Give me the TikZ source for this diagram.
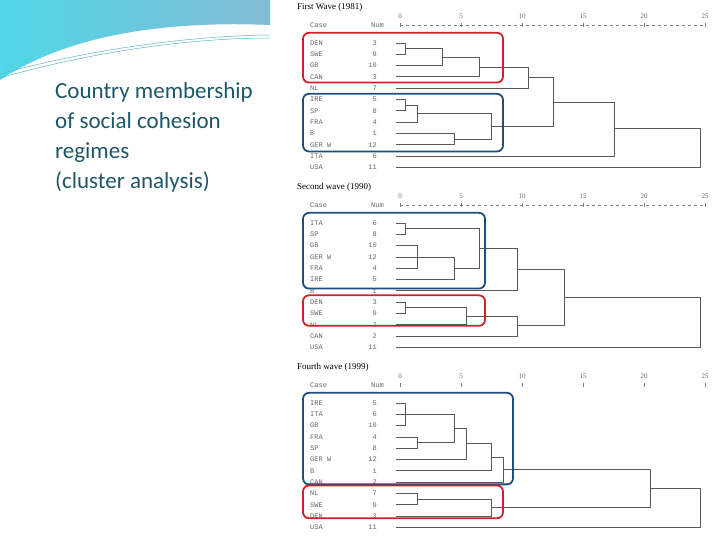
\documentclass[tikz,border=0pt]{standalone}
\usepackage{fontspec}
\setmainfont{Carlito}
\newfontfamily\monof{Liberation Mono}
\newfontfamily\serf{Liberation Serif}
\definecolor{ttl}{HTML}{1E5868}
\definecolor{redb}{HTML}{D0202A}
\definecolor{blueb}{HTML}{1F4E7A}
\definecolor{swl}{RGB}{90,180,200}
\definecolor{shl}{RGB}{80,215,232}
\definecolor{shr}{RGB}{130,188,212}
\tikzset{tree/.style={draw=black!65,line width=0.8pt},
 lab/.style={font=\monof\fontsize{7}{7}\selectfont,text=black!60,inner sep=0pt},
 ttlw/.style={font=\serf\fontsize{9}{9}\selectfont,anchor=west,inner sep=0pt},
 rbox/.style={draw=redb,line width=1.8pt,rounded corners=6pt},
 bbox/.style={draw=blueb,line width=1.8pt,rounded corners=6pt}}
\newcommand{\lnk}[5]{\draw[tree] (#2,#3) -- (#1,#3) -- (#1,#5) -- (#4,#5);}
\newcommand{\leaves}[1]{%
 \foreach \nm/\nu [count=\i] in {#1} {
  \node[lab,anchor=west] (c\i) at (310,\i) {\nm};
  \node[lab,anchor=east] (n\i) at (377,\i) {\nu};
 }}
\newcommand{\axis}[2]{%
 \node[ttlw] (tt) at (297,-2.2) {#1};
 \node[lab,anchor=west] (cs) at (310,-0.6) {Case};
 \node[lab,anchor=east] (nm) at (384,-0.6) {Num};
 \foreach \k in {0,5,...,25}{\node[lab,font=\serf\fontsize{7}{7}\selectfont] (ax\k) at ({400+12.2*\k},-1.4) {\k};
   \draw[black!50] ({400+12.2*\k},-0.8) -- ({400+12.2*\k},-0.4);}
 \ifx#2y\draw[black!50,dashed] (400,-0.6) -- (705,-0.6);\fi}
\begin{document}
\begin{tikzpicture}[x=1pt,y=-1pt]
\useasboundingbox (0,0) rectangle (720,540);
\fill[white] (0,0) rectangle (720,540);
\shade[left color=shl, right color=shr]
 (0,0) -- (270,0) -- (270,25) .. controls (150,20) and (60,40) .. (0,80) -- cycle;
\draw[swl,line width=0.5pt] (0,78) .. controls (80,55) and (180,38) .. (270,38);
\draw[swl,line width=0.5pt] (0,74) .. controls (80,52) and (180,36) .. (270,35);
\node[anchor=north west,align=left,text=ttl,font=\fontsize{23}{30}\selectfont,inner sep=0pt] (title) at (55,82)
 {Country membership\\of social cohesion\\regimes\\(cluster analysis)};
% panel 1
\begin{scope}[shift={(0,43)},y=-11.3pt,yshift=11.3pt]
\axis{First Wave (1981)}{y}
\leaves{DEN/3,SWE/9,GB/10,CAN/3,NL/7,IRE/5,SP/8,FRA/4,B/1,GER W/12,ITA/6,USA/11}
\lnk{405}{396}{1}{396}{2}
\lnk{442}{405}{1.5}{396}{3}
\lnk{479}{442}{2.25}{396}{4}
\lnk{528}{479}{3.125}{396}{5}
\lnk{405}{396}{6}{396}{7}
\lnk{417}{405}{6.5}{396}{8}
\lnk{454}{396}{9}{396}{10}
\lnk{491}{417}{7.25}{454}{9.5}
\lnk{553}{528}{4.06}{491}{8.375}
\lnk{614}{553}{6.22}{396}{11}
\lnk{700}{614}{8.6}{396}{12}
\draw[rbox] (303,0.1) rectangle (503,4.5);
\draw[bbox] (303,5.5) rectangle (503,10.6);
\end{scope}
% panel 2
\begin{scope}[shift={(0,223)},y=-11.3pt,yshift=11.3pt]
\axis{Second wave (1990)}{y}
\leaves{ITA/6,SP/8,GB/10,GER W/12,FRA/4,IRE/5,B/1,DEN/3,SWE/9,NL/7,CAN/2,USA/11}
\lnk{405}{396}{1}{396}{2}
\lnk{417}{396}{3}{396}{5}
\draw[tree] (396,4) -- (417,4);
\lnk{454}{417}{4}{396}{6}
\lnk{479}{405}{1.5}{454}{5}
\lnk{517}{479}{3.25}{396}{7}
\lnk{405}{396}{8}{396}{9}
\lnk{466}{405}{8.5}{396}{10}
\lnk{517}{466}{9.25}{396}{11}
\lnk{564}{517}{5.1}{517}{10.1}
\lnk{700}{564}{7.6}{396}{12}
\draw[bbox] (303,0.1) rectangle (485,6.8);
\draw[rbox] (303,7.4) rectangle (485,10.1);
\end{scope}
% panel 3
\begin{scope}[shift={(0,403)},y=-11.3pt,yshift=11.3pt]
\axis{Fourth wave (1999)}{n}
\leaves{IRE/5,ITA/6,GB/10,FRA/4,SP/8,GER W/12,B/1,CAN/2,NL/7,SWE/9,DEN/3,USA/11}
\lnk{405}{396}{1}{396}{3}
\draw[tree] (396,2) -- (405,2);
\lnk{417}{396}{4}{396}{5}
\lnk{454}{405}{2}{417}{4.5}
\lnk{466}{454}{3.25}{396}{6}
\lnk{491}{466}{4.6}{396}{7}
\lnk{503}{491}{5.8}{396}{8}
\lnk{417}{396}{9}{396}{10}
\lnk{491}{417}{9.5}{396}{11}
\lnk{650}{503}{6.9}{491}{10.25}
\lnk{700}{650}{8.6}{396}{12}
\draw[bbox] (303,0.1) rectangle (513,8.2);
\draw[rbox] (303,8.3) rectangle (503,11.2);
\end{scope}
\end{tikzpicture}
\end{document}
